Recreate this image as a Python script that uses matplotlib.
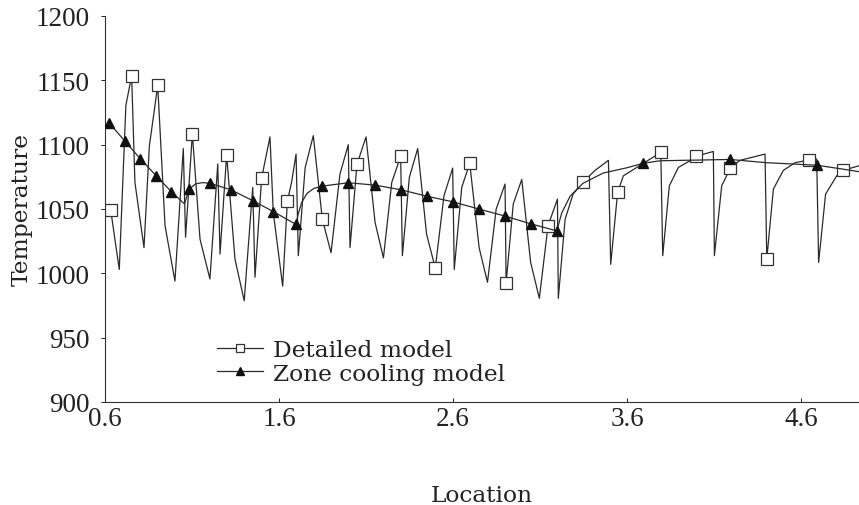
import matplotlib
matplotlib.use("Agg")
import matplotlib.pyplot as plt
from matplotlib.legend_handler import HandlerLine2D

# ---- data ----
detailed_x = [0.633, 0.682, 0.720, 0.753, 0.772, 0.824, 0.855, 0.903, 0.945, 1.002,
              1.050, 1.063, 1.102, 1.146, 1.203, 1.248, 1.261, 1.299, 1.347, 1.400,
              1.449, 1.462, 1.500, 1.548, 1.567, 1.621, 1.648, 1.672, 1.698, 1.711,
              1.750, 1.797, 1.849, 1.899, 1.950, 1.998, 2.008, 2.048, 2.100, 2.152,
              2.200, 2.248, 2.299, 2.309, 2.349, 2.397, 2.448, 2.498, 2.548, 2.598,
              2.607, 2.650, 2.696, 2.750, 2.798, 2.848, 2.899, 2.905, 2.946, 2.995,
              3.046, 3.096, 3.146, 3.200, 3.205, 3.244, 3.290, 3.347, 3.416, 3.493,
              3.506, 3.546, 3.579, 3.656, 3.794, 3.805, 3.843, 3.895, 3.962, 3.995,
              4.096, 4.102, 4.144, 4.194, 4.249, 4.393, 4.403, 4.441, 4.498, 4.566,
              4.644, 4.690, 4.701, 4.741, 4.805, 4.841, 4.933]
detailed_T = [1049, 1003, 1130.5, 1153.5, 1070.7, 1020, 1099, 1146, 1037, 994,
              1097, 1028, 1108.5, 1026.6, 995.6, 1085, 1015, 1092, 1011, 978.7,
              1066.8, 997, 1074, 1106, 1047.4, 990, 1056, 1070.7, 1092.7, 1013.7,
              1082, 1107, 1042, 1016, 1077, 1100, 1020, 1084.7, 1106, 1039.6,
              1012, 1070.7, 1091, 1013.7, 1074.6, 1097, 1030.5, 1004, 1060.3, 1081.8,
              1003, 1066.8, 1085.5, 1020, 993, 1050, 1069.4, 992.4, 1053.8, 1073,
              1008.5, 980.6, 1037, 1057.7, 980.6, 1042, 1061.6, 1071, 1080, 1087.8,
              1007, 1063, 1075.8, 1082.3, 1094, 1013.7, 1068, 1082.3, 1087.5, 1091,
              1094.7, 1013.7, 1068, 1081.8, 1087.8, 1092.7, 1011, 1065.5, 1080, 1086,
              1088, 1088.8, 1008.5, 1061.6, 1075.8, 1080, 1083.6]
detailed_marks = [0, 3, 7, 12, 17, 22, 26, 32, 37, 42, 47, 52, 57, 62, 67, 71, 74,
                  79, 83, 86, 90, 95]

zone_x = [0.623, 0.713, 0.803, 0.893, 0.981, 1.056, 1.085, 1.12, 1.16, 1.203,
          1.322, 1.449, 1.567, 1.698, 1.71, 1.73, 1.76, 1.80, 1.849, 1.998,
          2.150, 2.299, 2.448, 2.598, 2.748, 2.899, 3.046, 3.196, 3.225, 3.273,
          3.347, 3.464, 3.598, 3.692, 3.79, 3.995, 4.192, 4.40, 4.692, 4.84, 4.933]
zone_T = [1117, 1103, 1089, 1076, 1063.5, 1054, 1065.5, 1069.5, 1070.5, 1070,
          1065, 1056.5, 1048, 1038, 1046, 1055, 1062, 1066, 1067.8, 1070.4,
          1068.6, 1065, 1060, 1055.6, 1050, 1044.5, 1038.5, 1033, 1047, 1060,
          1070, 1078, 1082, 1085.5, 1087.5, 1088, 1088.5, 1086, 1084, 1081, 1079]
zone_marks = [0, 1, 2, 3, 4, 6, 9, 10, 11, 12, 13, 18, 19, 20, 21, 22, 23, 24,
              25, 26, 27, 33, 36, 38]

x_ticks = [0.6, 1.6, 2.6, 3.6, 4.6]
y_ticks = [900, 950, 1000, 1050, 1100, 1150, 1200]
labels = ["Detailed model", "Zone cooling model"]


class LeftMarkerHandler(HandlerLine2D):
    def get_xdata(self, legend, xdescent, ydescent, width, height, fontsize):
        xdata = [-xdescent, -xdescent + width]
        return xdata, [-xdescent]


fig = plt.figure(figsize=(8.59, 5.06), dpi=100)
ax = fig.add_axes([105 / 859, 103 / 506, 1 - 105 / 859, (403 - 17) / 506])

line_col = "#2a2a2a"
ax.plot(detailed_x, detailed_T, color=line_col, lw=0.9, marker="s", markersize=8,
        markerfacecolor="white", markeredgecolor="#333333", markeredgewidth=0.9,
        markevery=detailed_marks, label=labels[0], zorder=3)
ax.plot(zone_x, zone_T, color=line_col, lw=0.9, marker="^", markersize=7.5,
        markerfacecolor="#111111", markeredgecolor="#111111",
        markevery=zone_marks, label=labels[1], zorder=4)

ax.set_xlim(0.6, 4.933)
ax.set_ylim(900, 1200)
ax.set_xticks(x_ticks)
ax.set_xticklabels([f"{v:.1f}" for v in x_ticks])
ax.set_yticks(y_ticks)
ax.set_yticklabels([str(v) for v in y_ticks])

for s in ["top", "right"]:
    ax.spines[s].set_visible(False)
for s in ["left", "bottom"]:
    ax.spines[s].set_linewidth(0.8)
    ax.spines[s].set_color("#333333")

tick_font = dict(family=["Liberation Serif", "DejaVu Serif"], size=19.5)
ax.tick_params(axis="y", direction="out", length=3, width=0.7, pad=8, colors="#222222")
ax.tick_params(axis="x", direction="in", length=3, width=0.7, pad=3, colors="#222222")
for lab in ax.get_xticklabels() + ax.get_yticklabels():
    lab.set_fontfamily(tick_font["family"])
    lab.set_fontsize(tick_font["size"])

label_font = dict(family=["DejaVu Serif"], size=16.8, color="#222222")
ax.set_xlabel("Location", labelpad=38, **label_font)
ax.set_ylabel("Temperature", labelpad=2, **label_font)

handles, labs = ax.get_legend_handles_labels()
leg = ax.legend(handles, labs, loc="upper left", bbox_to_anchor=(0.1486, 0.162),
                frameon=False, handlelength=1.95, handletextpad=0.45,
                labelspacing=0.05, borderaxespad=0, borderpad=0,
                prop=dict(family="DejaVu Serif", size=16.8),
                handler_map={h: LeftMarkerHandler(numpoints=1) for h in handles})
for h in leg.legend_handles:
    h.set_markersize(5.5)
for t in leg.get_texts():
    t.set_color("#222222")

fig.savefig("out.png", dpi=100)
